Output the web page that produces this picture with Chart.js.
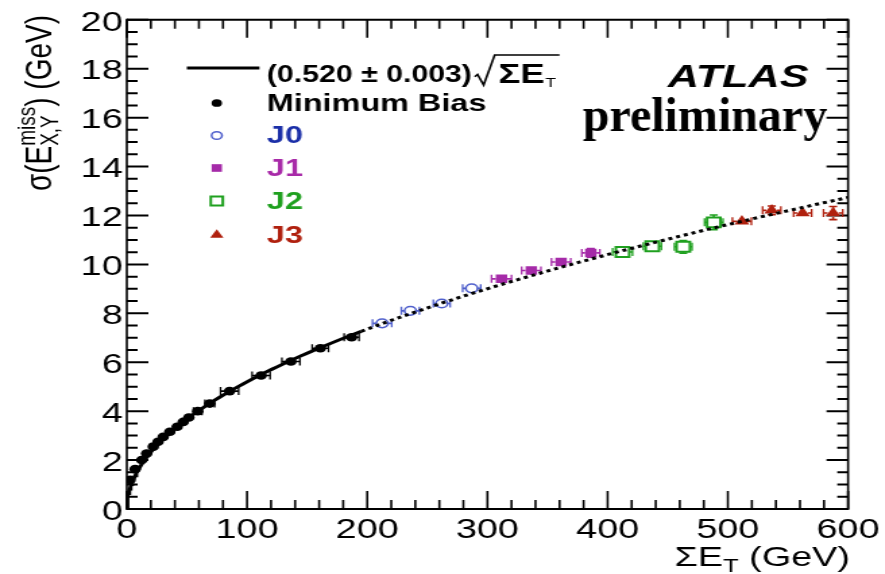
<!DOCTYPE html>
<html>
<head>
<meta charset="utf-8">
<script src="https://cdn.jsdelivr.net/npm/chart.js@4.4.1/dist/chart.umd.min.js"></script>
<style>
  html, body { margin: 0; padding: 0; background: #fff; overflow: hidden; }
  #wrap { width: 656px; height: 574px; transform: scaleX(1.349); transform-origin: 0 0; }
  canvas { display: block; }
</style>
</head>
<body>
<div id="wrap"><canvas id="c" width="656" height="574"></canvas></div>
<script>
// Figure is laid out on a 656x574 canvas and widened horizontally by SX.
const SX = 1.349;

// Axis ticks
const xTicks = [0, 100, 200, 300, 400, 500, 600];
const yTicks = [0, 2, 4, 6, 8, 10, 12, 14, 16, 18, 20];

// Fit: sigma = p0 * sqrt(SumET)
const FIT_COEF = 0.520;
const FIT_SOLID_MAX = 195;

// Minimum Bias
const mbX    = [2.7, 6.9, 12.4, 16.5, 22, 26, 30.3, 35.8, 41.9, 46.9, 51.6, 59, 69, 85.5, 111.7, 136.5, 161, 187];
const mbY    = [1.19, 1.63, 2.0, 2.27, 2.55, 2.75, 2.95, 3.16, 3.36, 3.56, 3.74, 4.0, 4.31, 4.82, 5.46, 6.03, 6.57, 7.02];
const mbXErr = [1, 1.5, 1.5, 1.5, 2, 2, 2, 2.5, 2.5, 2.5, 3, 3.5, 4, 7.5, 7.5, 7.5, 6.8, 6.2];
const mbYErr = [0.05, 0.05, 0.05, 0.05, 0.05, 0.05, 0.05, 0.05, 0.05, 0.05, 0.05, 0.05, 0.05, 0.05, 0.05, 0.05, 0.05, 0.06];

// J0
const j0X    = [212.4, 235.9, 262, 286.9];
const j0Y    = [7.59, 8.1, 8.4, 9.02];
const j0XErr = [8, 7.5, 7, 7.5];
const j0YErr = [0.08, 0.08, 0.08, 0.1];

// J1
const j1X    = [311.7, 336.5, 361.3, 386];
const j1Y    = [9.41, 9.75, 10.1, 10.47];
const j1XErr = [8.3, 8, 8, 7.5];
const j1YErr = [0.1, 0.1, 0.1, 0.18];

// J2
const j2X    = [412.4, 437.2, 462.9, 488.3];
const j2Y    = [10.51, 10.74, 10.72, 11.72];
const j2XErr = [8.3, 7.5, 7.3, 7.7];
const j2YErr = [0.1, 0.12, 0.26, 0.3];

// J3
const j3X    = [511.7, 536.5, 562.2, 587.6];
const j3Y    = [11.76, 12.21, 12.1, 12.1];
const j3XErr = [7.9, 7.6, 7.5, 8];
const j3YErr = [0.1, 0.18, 0.12, 0.27];

const FONT = '"Liberation Sans", Arial, Helvetica, sans-serif';
const SERIF = '"Liberation Serif", "Times New Roman", serif';

function pairs(xs, ys) { return xs.map((x, i) => ({ x: x, y: ys[i] })); }

// Curve samples for the fitted function
function fitCurve(x0, x1, n) {
  const pts = [];
  for (let i = 0; i <= n; i++) {
    const t = i / n;
    const x = x0 === 0 ? x1 * t * t : x0 + (x1 - x0) * t;
    pts.push({ x: x, y: FIT_COEF * Math.sqrt(x) });
  }
  return pts;
}

// gap: half-size of the marker, error bars start outside it
const series = [
  { label: 'Minimum Bias', x: mbX, y: mbY, ex: mbXErr, ey: mbYErr, style: 'circle',   r: 4.3, gap: 3,   color: '#000000', fill: '#000000', bw: 0,   text: '#000000' },
  { label: 'J0',           x: j0X, y: j0Y, ex: j0XErr, ey: j0YErr, style: 'circle',   r: 4.3, gap: 4.3, color: '#5060cc', fill: 'rgba(0,0,0,0)', bw: 1.5, text: '#1b2fa8' },
  { label: 'J1',           x: j1X, y: j1Y, ex: j1XErr, ey: j1YErr, style: 'rect',     r: 6,   gap: 4.2, color: '#a52aa8', fill: '#a52aa8', bw: 0,   text: '#a82aa8' },
  { label: 'J2',           x: j2X, y: j2Y, ex: j2XErr, ey: j2YErr, style: 'rect',     r: 7,   gap: 5,   color: '#1fa01f', fill: 'rgba(0,0,0,0)', bw: 2,   text: '#1fa01f' },
  { label: 'J3',           x: j3X, y: j3Y, ex: j3XErr, ey: j3YErr, style: 'triangle', r: 6.3, gap: 4,   color: '#b0200e', fill: '#b0200e', bw: 0,   text: '#b0200e' }
];

const datasets = [
  { label: 'fit', type: 'line', data: fitCurve(0, FIT_SOLID_MAX, 80), borderColor: '#000', borderWidth: 3,
    pointRadius: 0, tension: 0, fill: false, order: 0 },
  { label: 'fit extrapolation', type: 'line', data: fitCurve(FIT_SOLID_MAX, 600, 60), borderColor: '#000', borderWidth: 3,
    borderDash: [3, 3], pointRadius: 0, tension: 0, fill: false, order: 0 }
].concat(series.map(s => ({
  label: s.label,
  data: pairs(s.x, s.y),
  pointStyle: s.style,
  pointRadius: s.r,
  pointBorderWidth: s.bw,
  borderColor: s.color,
  backgroundColor: s.fill,
  errX: s.ex,
  errY: s.ey,
  errGap: s.gap,
  order: 1
})));

// Frame with inward ticks on all four sides
const framePlugin = {
  id: 'frame',
  beforeDatasetsDraw(chart) {
    const { ctx, chartArea: a, scales } = chart;
    const xs = scales.x, ys = scales.y;
    ctx.save();
    ctx.strokeStyle = '#000';
    ctx.lineCap = 'butt';
    ctx.lineWidth = 1.6;
    for (let v = 0; v <= 600; v += 20) {
      const px = xs.getPixelForValue(v);
      const len = v % 100 === 0 ? 18 : 9;
      ctx.beginPath();
      ctx.moveTo(px, a.bottom); ctx.lineTo(px, a.bottom - len);
      ctx.moveTo(px, a.top); ctx.lineTo(px, a.top + len);
      ctx.stroke();
    }
    ctx.lineWidth = 2;
    for (let v = 0; v <= 20; v += 0.5) {
      const py = ys.getPixelForValue(v);
      const len = v % 2 === 0 ? 16 : 8;
      ctx.beginPath();
      ctx.moveTo(a.left, py); ctx.lineTo(a.left + len, py);
      ctx.moveTo(a.right, py); ctx.lineTo(a.right - len, py);
      ctx.stroke();
    }
    ctx.lineWidth = 2;
    ctx.beginPath();
    ctx.moveTo(a.left, a.top); ctx.lineTo(a.right, a.top);
    ctx.moveTo(a.left, a.bottom); ctx.lineTo(a.right, a.bottom);
    ctx.stroke();
    ctx.lineWidth = 1.6;
    ctx.beginPath();
    ctx.moveTo(a.left, a.top - 1); ctx.lineTo(a.left, a.bottom + 1);
    ctx.moveTo(a.right, a.top - 1); ctx.lineTo(a.right, a.bottom + 1);
    ctx.stroke();
    ctx.restore();
  }
};

// Error bars with end caps, kept outside the marker
const errorPlugin = {
  id: 'errorbars',
  beforeDatasetsDraw(chart) {
    const { ctx, scales } = chart;
    const xs = scales.x, ys = scales.y;
    ctx.save();
    chart.data.datasets.forEach(ds => {
      if (!ds.errX) return;
      ctx.strokeStyle = ds.borderColor;
      const g = ds.errGap;
      ds.data.forEach((p, i) => {
        const cx = xs.getPixelForValue(p.x), cy = ys.getPixelForValue(p.y);
        const xl = xs.getPixelForValue(p.x - ds.errX[i]);
        const xr = xs.getPixelForValue(p.x + ds.errX[i]);
        const yt = ys.getPixelForValue(p.y + ds.errY[i]);
        const yb = ys.getPixelForValue(p.y - ds.errY[i]);
        ctx.lineWidth = 1.6;
        ctx.beginPath();
        if (xl < cx - g) { ctx.moveTo(xl, cy); ctx.lineTo(cx - g, cy); }
        if (xr > cx + g) { ctx.moveTo(cx + g, cy); ctx.lineTo(xr, cy); }
        if (yt < cy - g) { ctx.moveTo(cx, yt); ctx.lineTo(cx, cy - g); }
        if (yb > cy + g) { ctx.moveTo(cx, cy + g); ctx.lineTo(cx, yb); }
        ctx.stroke();
        ctx.lineWidth = 1.3;
        ctx.beginPath();
        if (xl < cx - g) { ctx.moveTo(xl, cy - 4); ctx.lineTo(xl, cy + 4); }
        if (xr > cx + g) { ctx.moveTo(xr, cy - 4); ctx.lineTo(xr, cy + 4); }
        ctx.stroke();
        ctx.lineWidth = 1.6;
        ctx.beginPath();
        if (yt < cy - g) { ctx.moveTo(cx - 3, yt); ctx.lineTo(cx + 3, yt); }
        if (yb > cy + g) { ctx.moveTo(cx - 3, yb); ctx.lineTo(cx + 3, yb); }
        ctx.stroke();
      });
    });
    ctx.restore();
  }
};

function drawRuns(ctx, runs, x, y) {
  let cx = x;
  runs.forEach(r => {
    if (r.stack) {
      let w = 0;
      r.stack.forEach(s => {
        ctx.font = s.font;
        ctx.fillText(s.text, cx, y + s.dy);
        w = Math.max(w, ctx.measureText(s.text).width);
      });
      cx += w;
    } else {
      ctx.font = r.font;
      ctx.fillText(r.text, cx, y + (r.dy || 0));
      cx += ctx.measureText(r.text).width;
    }
  });
  return cx;
}

function runsWidth(ctx, runs) {
  let w = 0;
  runs.forEach(r => {
    if (r.stack) {
      let m = 0;
      r.stack.forEach(s => { ctx.font = s.font; m = Math.max(m, ctx.measureText(s.text).width); });
      w += m;
    } else {
      ctx.font = r.font; w += ctx.measureText(r.text).width;
    }
  });
  return w;
}

// Legend, labels and axis titles
const textPlugin = {
  id: 'texts',
  afterDraw(chart) {
    const ctx = chart.ctx;
    ctx.save();
    ctx.textBaseline = 'alphabetic';
    ctx.textAlign = 'left';
    ctx.fillStyle = '#000';

    // y axis title, rotated, aligned to the top of the axis
    const yRuns = [
      { text: 'σ(E', font: '28px ' + FONT },
      { stack: [ { text: 'miss', font: '19px ' + FONT, dy: -12 }, { text: 'X,Y', font: '19px ' + FONT, dy: 5 } ] },
      { text: ') (GeV)', font: '28px ' + FONT }
    ];
    const yw = runsWidth(ctx, yRuns);
    ctx.save();
    ctx.translate(38, 15);
    ctx.rotate(-Math.PI / 2);
    drawRuns(ctx, yRuns, -yw, 0);
    ctx.restore();

    // x axis title, right aligned
    const xRuns = [
      { text: 'ΣE', font: '28px ' + FONT },
      { text: 'T', font: '19px ' + FONT, dy: 6 },
      { text: ' (GeV)', font: '28px ' + FONT }
    ];
    const xw = runsWidth(ctx, xRuns);
    drawRuns(ctx, xRuns, 630 - xw, 566);

    // legend: fit line and formula
    ctx.strokeStyle = '#000';
    ctx.lineWidth = 3;
    ctx.beginPath();
    ctx.moveTo(138.5, 68); ctx.lineTo(192.3, 68);
    ctx.stroke();
    ctx.font = 'bold 23px ' + FONT;
    ctx.fillText('(0.520 ± 0.003)', 197.8, 81.5, 152);
    ctx.lineWidth = 1.6;
    ctx.beginPath();
    ctx.moveTo(351.9, 76.7);
    ctx.lineTo(354, 74.5);
    ctx.lineTo(358.5, 85);
    ctx.lineTo(366.7, 55);
    ctx.lineTo(414.8, 55);
    ctx.stroke();
    ctx.font = 'bold 27px ' + FONT;
    ctx.fillText('ΣE', 369.5, 83);
    const sw = ctx.measureText('ΣE').width;
    ctx.font = '13px ' + FONT;
    ctx.fillText('T', 369.5 + sw + 0.5, 87);

    // legend: markers
    const rows = [103, 135.5, 168, 201, 235];
    series.forEach((s, i) => {
      const y = rows[i];
      ctx.fillStyle = s.fill;
      ctx.strokeStyle = s.color;
      ctx.lineWidth = s.bw;
      Chart.helpers.drawPoint(ctx, { pointStyle: s.style, radius: s.r * 0.9, rotation: 0, borderWidth: s.bw }, 160.7, y);
      ctx.fillStyle = s.text;
      ctx.font = 'bold 24px ' + FONT;
      ctx.textBaseline = 'middle';
      ctx.fillText(s.label, 197.8, y + 1);
      ctx.textBaseline = 'alphabetic';
    });

    // experiment label
    ctx.fillStyle = '#000';
    ctx.font = 'italic bold 32px ' + FONT;
    ctx.fillText('ATLAS', 495, 87);
    ctx.save();
    ctx.translate(432, 131);
    ctx.scale(1 / SX, 1);
    ctx.font = 'bold 48px ' + SERIF;
    ctx.fillText('preliminary', 0, 0);
    ctx.restore();

    ctx.restore();
  }
};

new Chart(document.getElementById('c'), {
  type: 'scatter',
  data: { datasets: datasets },
  options: {
    responsive: false,
    animation: false,
    devicePixelRatio: 1,
    events: [],
    layout: { padding: { left: 0, right: 25, top: 17, bottom: 0 } },
    plugins: { legend: { display: false }, tooltip: { enabled: false } },
    scales: {
      x: {
        type: 'linear', min: 0, max: 600,
        grid: { display: false, drawTicks: false },
        border: { display: false },
        afterBuildTicks(s) { s.ticks = xTicks.map(v => ({ value: v })); },
        afterFit(s) { s.height = 65; },
        ticks: { color: '#000', font: { family: FONT, size: 28 }, padding: 4, maxRotation: 0, autoSkip: false }
      },
      y: {
        type: 'linear', min: 0, max: 20,
        grid: { display: false, drawTicks: false },
        border: { display: false },
        afterBuildTicks(s) { s.ticks = yTicks.map(v => ({ value: v })); },
        afterFit(s) { s.width = 94; },
        ticks: { color: '#000', font: { family: FONT, size: 28 }, padding: 3, labelOffset: 3, autoSkip: false }
      }
    }
  },
  plugins: [framePlugin, errorPlugin, textPlugin]
});
</script>
</body>
</html>
